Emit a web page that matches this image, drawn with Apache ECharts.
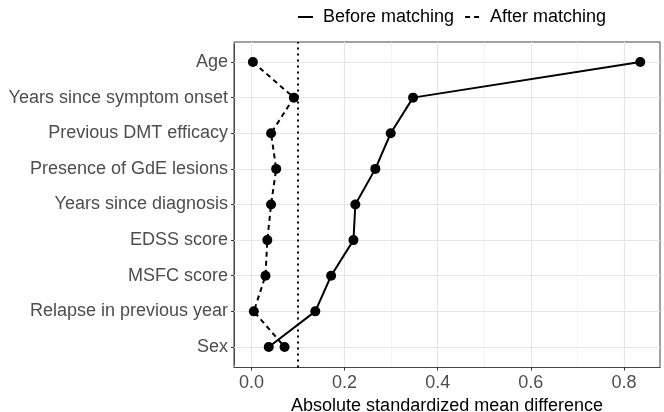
<!DOCTYPE html>
<html>
<head>
<meta charset="utf-8">
<script src="https://cdn.jsdelivr.net/npm/echarts@6/dist/echarts.min.js"></script>
<style>
html,body{margin:0;padding:0;background:#fff;}
#chart{width:664px;height:412px;}
</style>
</head>
<body>
<div id="chart"></div>
<script>
const categories = ['Age','Years since symptom onset','Previous DMT efficacy','Presence of GdE lesions','Years since diagnosis','EDSS score','MSFC score','Relapse in previous year','Sex'];
const beforeMatching = [0.835, 0.347, 0.299, 0.266, 0.223, 0.219, 0.171, 0.137, 0.037];
const afterMatching = [0.003, 0.091, 0.042, 0.053, 0.042, 0.034, 0.030, 0.005, 0.071];
const xTicks = [0, 0.2, 0.4, 0.6, 0.8];
const threshold = 0.1;
const xMin = -0.0376, xMax = 0.8774;

const FONT = "'Liberation Sans', Arial, sans-serif";
const chart = echarts.init(document.getElementById('chart'), null, {renderer:'canvas'});

function pairs(vals){ return vals.map((v,i)=>[v, categories[i]]); }

const option = {
  backgroundColor:'#ffffff',
  animation:false,
  textStyle:{fontFamily:FONT},
  legend:{
    data:['Before matching','After matching'],
    left:292, top:3,
    itemWidth:15, itemHeight:14, itemGap:10,
    itemStyle:{opacity:0},
    textStyle:{fontSize:18, color:'#000', fontFamily:FONT, padding:[0,0,0,5]}
  },
  grid:[
    {left:234, right:4, top:44.2, bottom:47.2, containLabel:false, outerBoundsMode:'none'},
    {left:234, right:4, top:42, bottom:44.5, show:true, borderColor:'#444', borderWidth:1, backgroundColor:'transparent', containLabel:false, outerBoundsMode:'none'}
  ],
  xAxis:[
    {gridIndex:0, type:'value', min:xMin, max:xMax, show:false},
    {gridIndex:1, type:'value', min:xMin, max:xMax, position:'bottom',
     axisLine:{show:true, onZero:false, lineStyle:{color:'#444', width:1}},
     axisTick:{show:true, inside:false, length:3, lineStyle:{color:'#333', width:1}, customValues:xTicks},
     axisLabel:{color:'#4d4d4d', fontSize:18, fontFamily:FONT, margin:7, customValues:xTicks,
       formatter:function(v){ return v.toFixed(1); }},
     splitLine:{show:true, lineStyle:{color:'#e6e6e6', width:1.2}},
     minorTick:{show:false, splitNumber:2},
     minorSplitLine:{show:true, lineStyle:{color:'#efefef', width:0.7}},
     name:'Absolute standardized mean difference', nameLocation:'middle', nameGap:24,
     nameTextStyle:{color:'#000', fontSize:18, fontFamily:FONT}
    }
  ],
  yAxis:[
    {gridIndex:0, type:'category', data:categories, inverse:true, boundaryGap:true, position:'left',
     axisLine:{show:true, onZero:false, lineStyle:{color:'#444', width:1}},
     axisTick:{show:true, inside:false, alignWithLabel:true, length:3, lineStyle:{color:'#333', width:1}},
     axisLabel:{color:'#4d4d4d', fontSize:18, fontFamily:FONT, margin:6},
     splitLine:{show:false}
    },
    {gridIndex:1, type:'value', min:0, max:1, show:false}
  ],
  series:[
    {name:'Before matching', type:'line', xAxisIndex:0, yAxisIndex:0, data:pairs(beforeMatching),
     symbol:'circle', symbolSize:10, itemStyle:{color:'#000'},
     lineStyle:{color:'#000', width:2, type:'solid'}, z:5,
     markLine:{silent:true, symbol:'none', label:{show:false},
       lineStyle:{color:'#e6e6e6', width:1.2, type:'solid'},
       data:categories.map(c=>({yAxis:c}))}},
    {name:'After matching', type:'line', xAxisIndex:0, yAxisIndex:0, data:pairs(afterMatching),
     symbol:'circle', symbolSize:10, itemStyle:{color:'#000'},
     lineStyle:{color:'#000', width:2, type:[5,4]}, z:5},
    {name:'threshold', type:'line', xAxisIndex:1, yAxisIndex:1, data:[], z:4,
     markLine:{silent:true, symbol:'none', label:{show:false},
       lineStyle:{color:'#000', width:2, type:[2,4]},
       data:[{xAxis:threshold}]}}
  ]
};
chart.setOption(option);
</script>
</body>
</html>
